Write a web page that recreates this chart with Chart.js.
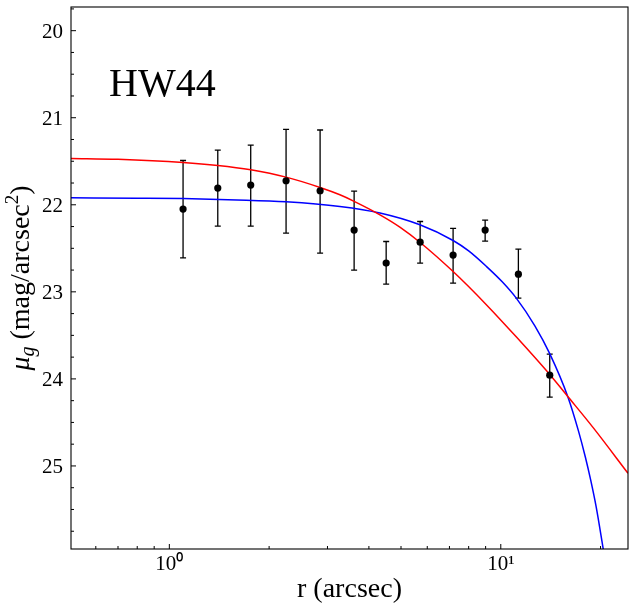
<!DOCTYPE html>
<html>
<head>
    <meta charset="utf-8">
    <title>HW44</title>
    <script src="https://cdn.jsdelivr.net/npm/chart.js"></script>
    <style>
        html, body { margin: 0; padding: 0; background: #fff; }
        #wrap { width: 634px; height: 608px; }
    </style>
</head>
<body>
<div id="wrap"><canvas id="profileChart"></canvas></div>
<script>
    const galaxyName = 'HW44';

    // measured surface brightness profile
    const radius = [1.10, 1.40, 1.76, 2.25, 2.85, 3.61, 4.51, 5.71, 7.18, 8.97, 11.3, 14.05];
    const mu     = [22.049, 21.808, 21.774, 21.724, 21.839, 22.291, 22.670, 22.429, 22.578, 22.291, 22.797, 23.957];
    const muLow  = [21.491, 21.371, 21.314, 21.134, 21.141, 21.843, 22.422, 22.192, 22.272, 22.176, 22.509, 23.716];
    const muHigh = [22.609, 22.245, 22.245, 22.325, 22.555, 22.751, 22.911, 22.670, 22.900, 22.417, 23.072, 24.210];

    // red model curve
    const redR  = [0.505, 0.70, 1.10, 1.40, 1.76, 2.25, 2.85, 3.27, 3.61, 4.32, 4.96, 5.70, 7.18, 9.06, 11.15, 14.05, 15.95, 19.0, 24.2];
    const redMu = [21.468, 21.478, 21.514, 21.548, 21.598, 21.682, 21.801, 21.885, 21.96, 22.115, 22.256, 22.43, 22.767, 23.15, 23.52, 23.95, 24.205, 24.56, 25.084];

    // blue model curve
    const blueR  = [0.505, 0.80, 1.10, 1.60, 2.25, 3.27, 4.32, 5.70, 7.18, 8.0, 9.06, 10.1, 11.15, 12.67, 14.05, 15.95, 17.16, 18.0, 18.67, 19.40, 20.40];
    const blueMu = [21.92, 21.924, 21.929, 21.944, 21.966, 22.02, 22.095, 22.23, 22.41, 22.53, 22.71, 22.885, 23.075, 23.39, 23.71, 24.21, 24.60, 24.90, 25.16, 25.47, 25.966];

    const yTicks = [20, 21, 22, 23, 24, 25];
    const yMinorStep = 0.25;
    const xTicks = [1, 10];
    const xTickLabels = ['10\u2070', '10\u00b9'];
    const xMinor = [0.6, 0.7, 0.8, 0.9, 2, 3, 4, 5, 6, 7, 8, 9, 20];

    const serif = "'Liberation Serif', 'Times New Roman', serif";

    function toPoints(xs, ys) {
        return xs.map((x, i) => ({ x: x, y: ys[i] }));
    }

    const decor = {
        id: 'decor',
        beforeDatasetsDraw(chart) {
            const ctx = chart.ctx;
            const xs = chart.scales.x, ys = chart.scales.y;
            ctx.save();
            ctx.strokeStyle = '#000';
            ctx.lineWidth = 1.3;
            for (let i = 0; i < radius.length; i++) {
                const px = xs.getPixelForValue(radius[i]);
                const top = ys.getPixelForValue(muLow[i]);
                const bot = ys.getPixelForValue(muHigh[i]);
                ctx.beginPath();
                ctx.moveTo(px, top); ctx.lineTo(px, bot);
                ctx.moveTo(px - 3, top); ctx.lineTo(px + 3, top);
                ctx.moveTo(px - 3, bot); ctx.lineTo(px + 3, bot);
                ctx.stroke();
            }
            ctx.restore();
        },
        afterDraw(chart) {
            const ctx = chart.ctx;
            const a = chart.chartArea;
            const xs = chart.scales.x, ys = chart.scales.y;
            ctx.save();

            // frame
            ctx.strokeStyle = '#000';
            ctx.lineWidth = 1.1;
            ctx.strokeRect(a.left, a.top, a.right - a.left, a.bottom - a.top);

            // inward ticks
            ctx.lineWidth = 1;
            ctx.beginPath();
            yTicks.forEach(v => {
                const py = ys.getPixelForValue(v);
                ctx.moveTo(a.left, py); ctx.lineTo(a.left + 5, py);
            });
            for (let v = Math.ceil(ys.min / yMinorStep) * yMinorStep; v <= ys.max; v += yMinorStep) {
                if (Math.abs(v - Math.round(v)) < 1e-6) continue;
                const py = ys.getPixelForValue(v);
                ctx.moveTo(a.left, py); ctx.lineTo(a.left + 3, py);
            }
            xTicks.forEach(v => {
                const px = xs.getPixelForValue(v);
                ctx.moveTo(px, a.bottom); ctx.lineTo(px, a.bottom - 5);
            });
            xMinor.forEach(v => {
                const px = xs.getPixelForValue(v);
                ctx.moveTo(px, a.bottom); ctx.lineTo(px, a.bottom - 3);
            });
            ctx.stroke();

            // y tick labels
            ctx.fillStyle = '#000';
            ctx.font = '21px ' + serif;
            ctx.textAlign = 'right';
            ctx.textBaseline = 'alphabetic';
            yTicks.forEach(v => {
                ctx.fillText(String(v), a.left - 8, ys.getPixelForValue(v) + 7.5);
            });

            // galaxy name
            ctx.font = '40px ' + serif;
            ctx.textAlign = 'left';
            ctx.fillText(galaxyName, a.left + 38, a.top + 89);

            // x axis title
            ctx.font = '28px ' + serif;
            ctx.textAlign = 'center';
            ctx.fillText('r (arcsec)', (a.left + a.right) / 2, 597);

            // y axis title: mu_g (mag/arcsec^2)
            const parts = [
                { t: '\u03bc', f: 'italic 28px ' + serif, dy: 0 },
                { t: 'g', f: 'italic 20px ' + serif, dy: 5 },
                { t: ' (mag/arcsec', f: '28px ' + serif, dy: 0 },
                { t: '2', f: '19px ' + serif, dy: -11 },
                { t: ')', f: '28px ' + serif, dy: 0 }
            ];
            let total = 0;
            parts.forEach(p => { ctx.font = p.f; p.w = ctx.measureText(p.t).width; total += p.w; });
            ctx.translate(28.5, (a.top + a.bottom) / 2);
            ctx.rotate(-Math.PI / 2);
            ctx.textAlign = 'left';
            let cx = -total / 2;
            parts.forEach(p => {
                ctx.font = p.f;
                ctx.fillText(p.t, cx, p.dy);
                cx += p.w;
            });
            ctx.restore();
        }
    };

    new Chart(document.getElementById('profileChart'), {
        type: 'scatter',
        data: {
            datasets: [
                {
                    label: 'data',
                    data: toPoints(radius, mu),
                    pointRadius: 3.6,
                    pointBackgroundColor: '#000',
                    pointBorderWidth: 0,
                    order: 0
                },
                {
                    label: 'red model',
                    data: toPoints(redR, redMu),
                    showLine: true,
                    borderColor: '#ff0000',
                    borderWidth: 1.5,
                    pointRadius: 0,
                    cubicInterpolationMode: 'monotone',
                    order: 1
                },
                {
                    label: 'blue model',
                    data: toPoints(blueR, blueMu),
                    showLine: true,
                    borderColor: '#0000ff',
                    borderWidth: 1.5,
                    pointRadius: 0,
                    cubicInterpolationMode: 'monotone',
                    order: 2
                }
            ]
        },
        options: {
            responsive: true,
            maintainAspectRatio: false,
            animation: false,
            layout: { padding: { top: 7, right: 6, left: 0, bottom: 0 } },
            plugins: { legend: { display: false }, tooltip: { enabled: false } },
            scales: {
                x: {
                    type: 'logarithmic',
                    min: 0.505,
                    max: 24.2,
                    grid: { display: false, drawTicks: false },
                    border: { display: false },
                    afterBuildTicks: s => { s.ticks = xTicks.map(v => ({ value: v })); },
                    afterFit: s => { s.height = 59; s.paddingLeft = 0; s.paddingRight = 0; },
                    ticks: {
                        autoSkip: false,
                        maxRotation: 0,
                        padding: 3,
                        color: '#000',
                        font: { family: serif, size: 21 },
                        callback: v => {
                            const i = xTicks.indexOf(v);
                            return i >= 0 ? xTickLabels[i] : '';
                        }
                    }
                },
                y: {
                    type: 'linear',
                    reverse: true,
                    min: 19.728,
                    max: 25.954,
                    grid: { display: false, drawTicks: false },
                    border: { display: false },
                    afterBuildTicks: s => { s.ticks = yTicks.map(v => ({ value: v })); },
                    afterFit: s => { s.width = 71; s.paddingTop = 0; s.paddingBottom = 0; },
                    ticks: { display: false }
                }
            }
        },
        plugins: [decor]
    });
</script>
</body>
</html>
